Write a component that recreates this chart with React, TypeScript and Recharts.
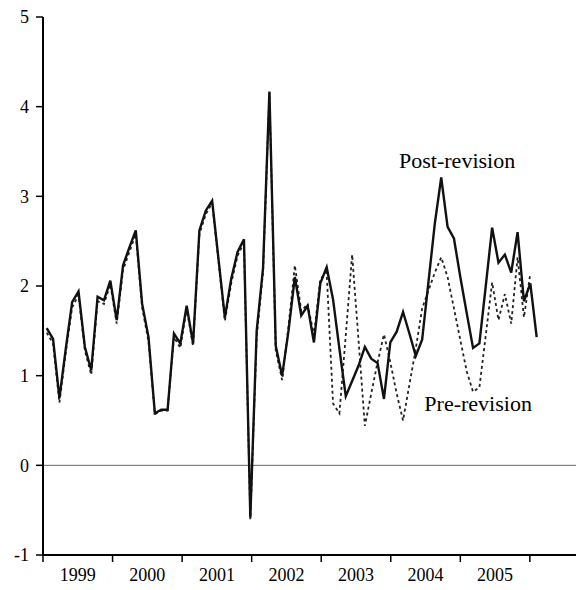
import React from 'react';
import { LineChart, Line, XAxis, YAxis, ReferenceLine, ReferenceDot } from 'recharts';

// Year labels shown between the boundary ticks
const years = ['1999', '2000', '2001', '2002', '2003', '2004', '2005'];

const postRevision = [
  1.53, 1.41, 0.75, 1.3, 1.82, 1.94, 1.32, 1.06, 1.88, 1.84,
  2.06, 1.62, 2.23, 2.43, 2.62, 1.8, 1.43, 0.58, 0.62, 0.62,
  1.47, 1.36, 1.78, 1.36, 2.62, 2.84, 2.95, 2.3, 1.65, 2.08,
  2.38, 2.52, -0.58, 1.5, 2.2, 4.17, 1.33, 1.0, 1.5, 2.1,
  1.67, 1.78, 1.37, 2.03, 2.21, 1.85, 1.3, 0.77, 0.94, 1.11,
  1.32, 1.19, 1.14, 0.74, 1.37, 1.49, 1.71, 1.47, 1.22, 1.4,
  2.05, 2.7, 3.21, 2.66, 2.53, 2.1, 1.7, 1.31, 1.36, 2.0,
  2.65, 2.26, 2.35, 2.15, 2.6, 1.83, 2.03, 1.43,
];

const preRevision = [
  1.48, 1.36, 0.7, 1.26, 1.76, 1.9, 1.28, 1.01, 1.83, 1.8,
  2.02, 1.58, 2.18, 2.38, 2.58, 1.76, 1.38, 0.57, 0.61, 0.61,
  1.43, 1.31, 1.75, 1.33, 2.58, 2.8, 2.93, 2.28, 1.61, 2.03,
  2.34, 2.48, -0.6, 1.43, 2.16, 4.15, 1.28, 0.95, 1.55, 2.23,
  1.72, 1.8, 1.45, 2.08, 2.15, 0.69, 0.58, 1.45, 2.35, 1.4,
  0.44, 0.8, 1.15, 1.46, 1.15, 0.8, 0.5, 0.9, 1.3, 1.75,
  1.95, 2.15, 2.32, 2.1, 1.75, 1.4, 1.05, 0.82, 0.87, 1.45,
  2.04, 1.62, 1.91, 1.58, 2.32, 1.65, 2.14,
];

const yTicks = [-1, 0, 1, 2, 3, 4, 5];

const data = postRevision.map((v, i) => ({ i, post: v, pre: preRevision[i] }));

// x axis: observation index, years start at -0.58 and span ~10.93 observations each
const xMin = -0.58;
const xMax = 83.18;
const perYear = 10.93;
const yearTicks = [...years.map((_, k) => xMin + k * perYear), xMin + years.length * perYear];

const W = 576;
const H = 590;
const yAxisW = 43;
const plotW = W - yAxisW;
const halfYearPx = (perYear * plotW) / (xMax - xMin) / 2;

const font = 'Liberation Serif';

const YearTick = (props: any) => {
  const { x, y, index } = props;
  if (index >= years.length) return <g />;
  return (
    <text
      x={x + halfYearPx}
      y={y}
      dy="0.71em"
      textAnchor="middle"
      fill="#000"
      style={{ fontFamily: font, fontSize: 18 }}
    >
      {years[index]}
    </text>
  );
};

const App: React.FC = () => {
  return (
    <div
      style={{
        position: 'absolute',
        left: 0,
        top: 0,
        width: W,
        height: H,
        background: '#fff',
        fontFamily: font,
      }}
    >
      <LineChart
        width={W}
        height={H}
        data={data}
        margin={{ top: 17, right: 0, bottom: 0, left: 0 }}
        style={{ fontFamily: font }}
      >
        <XAxis
          dataKey="i"
          type="number"
          domain={[xMin, xMax]}
          ticks={yearTicks}
          allowDataOverflow
          interval={0}
          height={35}
          tickSize={7}
          tickMargin={6}
          tick={<YearTick />}
          axisLine={{ stroke: '#000', strokeWidth: 2 }}
          tickLine={{ stroke: '#000', strokeWidth: 1.5 }}
        />
        <YAxis
          type="number"
          domain={[-1, 5]}
          ticks={yTicks}
          interval={0}
          width={yAxisW}
          tickSize={7}
          tickMargin={7}
          tick={{ fill: '#000', fontSize: 18, style: { fontFamily: font } }}
          axisLine={{ stroke: '#000', strokeWidth: 2 }}
          tickLine={{ stroke: '#000', strokeWidth: 1.5 }}
        />
        <ReferenceLine y={0} stroke="#666" strokeWidth={1} />
        <Line
          dataKey="pre"
          type="linear"
          stroke="#222"
          strokeWidth={1.8}
          strokeDasharray="3 3"
          dot={false}
          isAnimationActive={false}
        />
        <Line
          dataKey="post"
          type="linear"
          stroke="#111"
          strokeWidth={2.4}
          dot={false}
          isAnimationActive={false}
        />
        <ReferenceDot
          x={64.5}
          y={3.4}
          r={0}
          fill="none"
          stroke="none"
          label={{ value: 'Post-revision', position: 'center', fontSize: 22, fill: '#000', style: { fontFamily: font } }}
        />
        <ReferenceDot
          x={67.8}
          y={0.69}
          r={0}
          fill="none"
          stroke="none"
          label={{ value: 'Pre-revision', position: 'center', fontSize: 22, fill: '#000', style: { fontFamily: font } }}
        />
      </LineChart>
    </div>
  );
};

export default App;
